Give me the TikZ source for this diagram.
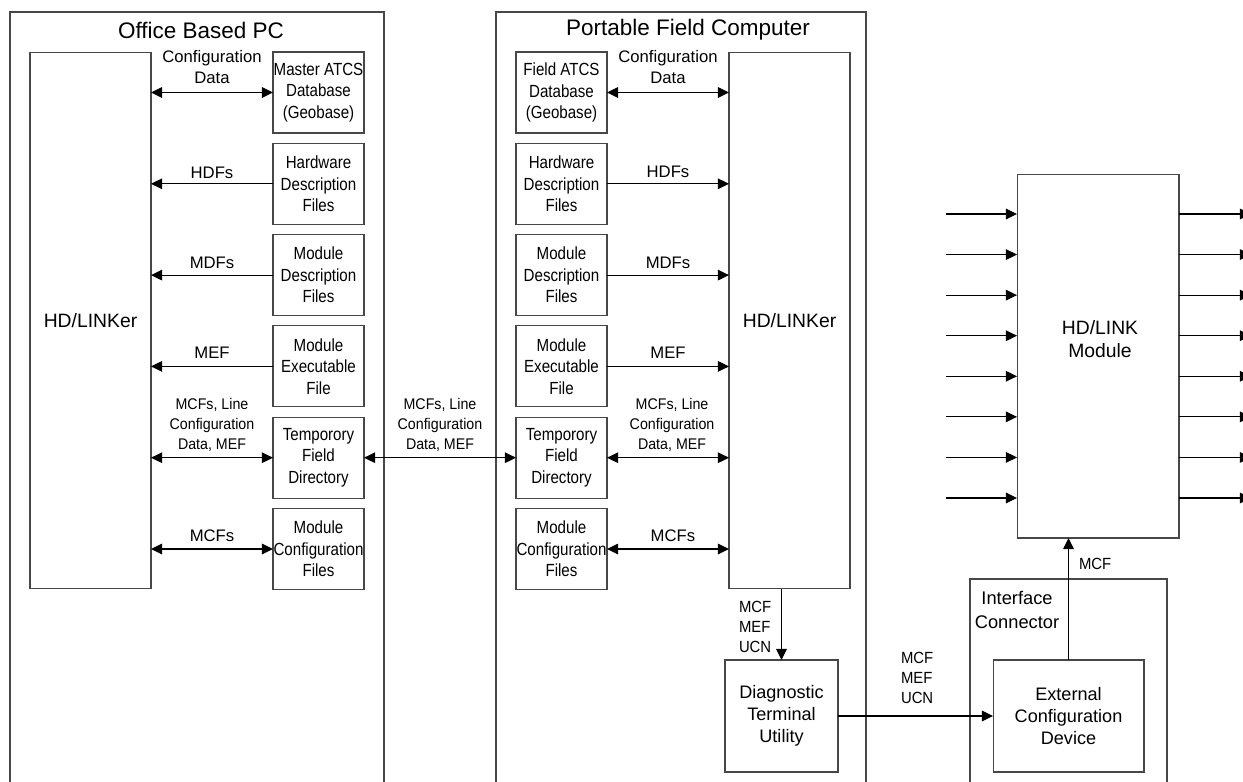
\documentclass[tikz,border=0pt]{standalone}
\usepackage{fontspec}
\setmainfont{Liberation Sans}
\newfontfamily\narrowsf{Liberation Sans}[FakeStretch=0.86]
\newfontfamily\semisf{Liberation Sans}[FakeStretch=0.92]
\usetikzlibrary{arrows.meta}
\begin{document}
\begin{tikzpicture}[x=0.02cm,y=-0.02cm,
  every node/.style={inner sep=0pt, outer sep=0pt},
  boxline/.style={draw=black!72, line width=0.6pt},
  fbox/.style={boxline, minimum width=1.82cm, minimum height=1.62cm, align=center,
    font=\narrowsf\fontsize{10}{12.3}\selectfont},
  bigbox/.style={boxline, minimum width=2.42cm, minimum height=10.74cm,
    font=\fontsize{11}{13}\selectfont},
  unitbox/.style={boxline, align=center, font=\fontsize{10.3}{12.6}\selectfont},
  title/.style={font=\fontsize{12.8}{15}\selectfont},
  tip/.style={},
  arr/.style={-{Triangle[length=6.3pt,width=6pt]}, line width=0.6pt},
  darr/.style={{Triangle[length=6.3pt,width=6pt]}-{Triangle[length=6.3pt,width=6pt]}, line width=0.6pt},
  lab/.style={font=\fontsize{9.5}{12}\selectfont, align=center},
  labn/.style={font=\semisf\fontsize{8.8}{11.3}\selectfont, align=center},
  labl/.style={font=\semisf\fontsize{9.2}{11.3}\selectfont, align=left, anchor=west}
]
\useasboundingbox (0,0) rectangle (1243,781);
\clip (0,0) rectangle (1243,781);
\fill[white] (0,0) rectangle (1243,781);

% frames
\draw[boxline] (10,12) rectangle (384,800);
\node[title] (t1) at (201,30) {Office Based PC};
\draw[boxline] (496,12) rectangle (866,800);
\node[title] (t2) at (688,30) {Portable Field Computer};

% office PC
\node[bigbox] (hl1) at (90.5,320.5) {HD/LINKer};
\node[fbox] (ob1) at (318.5,92.5) {Master ATCS\\Database\\(Geobase)};
\node[fbox] (ob2) at (318.5,183.8) {Hardware\\Description\\Files};
\node[fbox] (ob3) at (318.5,275.1) {Module\\Description\\Files};
\node[fbox] (ob4) at (318.5,366.4) {Module\\Executable\\File};
\node[fbox] (ob5) at (318.5,457.7) {Temporory\\Field\\Directory};
\node[fbox] (ob6) at (318.5,549) {Module\\Configuration\\Files};

\draw[darr] (hl1.east |- ob1.west) -- node[lab, yshift=14.5pt] {Configuration\\Data} (ob1.west);
\draw[arr] (ob2.west) -- node[lab, yshift=6.2pt] {HDFs} (hl1.east |- ob2.west);
\draw[arr] (ob3.west) -- node[lab, yshift=6.8pt] {MDFs} (hl1.east |- ob3.west);
\draw[arr] (ob4.west) -- node[lab, yshift=8pt] {MEF} (hl1.east |- ob4.west);
\draw[darr] (hl1.east |- ob5.west) -- node[labn, yshift=18.7pt] {MCFs, Line\\Configuration\\Data, MEF} (ob5.west);
\draw[darr] (hl1.east |- ob6.west) -- node[lab, yshift=7.4pt] {MCFs} (ob6.west);

% portable field computer
\node[bigbox] (hl2) at (789.5,320.5) {HD/LINKer};
\node[fbox] (fb1) at (561.5,92.5) {Field ATCS\\Database\\(Geobase)};
\node[fbox] (fb2) at (561.5,183.8) {Hardware\\Description\\Files};
\node[fbox] (fb3) at (561.5,275.1) {Module\\Description\\Files};
\node[fbox] (fb4) at (561.5,366.4) {Module\\Executable\\File};
\node[fbox] (fb5) at (561.5,457.7) {Temporory\\Field\\Directory};
\node[fbox] (fb6) at (561.5,549) {Module\\Configuration\\Files};

\draw[darr] (fb1.east) -- node[lab, yshift=14.5pt] {Configuration\\Data} (hl2.west |- fb1.east);
\draw[arr] (fb2.east) -- node[lab, yshift=6.8pt] {HDFs} (hl2.west |- fb2.east);
\draw[arr] (fb3.east) -- node[lab, yshift=6.8pt] {MDFs} (hl2.west |- fb3.east);
\draw[arr] (fb4.east) -- node[lab, yshift=8pt] {MEF} (hl2.west |- fb4.east);
\draw[darr] (fb5.east) -- node[labn, yshift=18.7pt, xshift=2.3pt] {MCFs, Line\\Configuration\\Data, MEF} (hl2.west |- fb5.east);
\draw[darr] (fb6.east) -- node[lab, yshift=7.4pt, xshift=2.8pt] {MCFs} (hl2.west |- fb6.east);

% cross link
\draw[darr] (ob5.east) -- node[labn, yshift=18.7pt] {MCFs, Line\\Configuration\\Data, MEF} (fb5.west);

% diagnostic terminal
\node[unitbox, minimum width=2.26cm, minimum height=2.24cm] (dtu) at (781.5,716) {Diagnostic\\Terminal\\Utility};
\draw[arr] (dtu.north |- hl2.south) -- (dtu.north);
\node[labl] (l1) at (739,627) {MCF\\MEF\\UCN};

% interface connector
\draw[boxline] (970,579) rectangle (1167,800);
\node[align=center, font=\fontsize{10.4}{13.4}\selectfont] (ic) at (1017,610) {Interface\\Connector};
\node[unitbox, minimum width=3.02cm, minimum height=2.24cm] (ecd) at (1068.5,716) {External\\Configuration\\Device};
\draw[arr] (dtu.east) -- (ecd.west);
\node[labl] (l2) at (901,678) {MCF\\MEF\\UCN};

% HD/LINK module
\node[boxline, minimum width=3.24cm, minimum height=7.28cm] (hlm) at (1098,356) {};
\node[font=\fontsize{11}{13}\selectfont, align=center] (hlmt) at (1100,339) {HD/LINK\\Module};
\draw[arr] (ecd.north) -- (ecd.north |- hlm.south);
\node[labl] (l3) at (1079,564) {MCF};

\foreach \i in {0,...,7} {
  \pgfmathsetmacro\yy{214+40.57*\i}
  \coordinate (in\i) at (946,\yy);
  \coordinate (out\i) at (1251,\yy);
  \draw[arr] (in\i) -- (in\i -| hlm.west);
  \draw[arr] (hlm.east |- out\i) -- (out\i);
}
\end{tikzpicture}
\end{document}
